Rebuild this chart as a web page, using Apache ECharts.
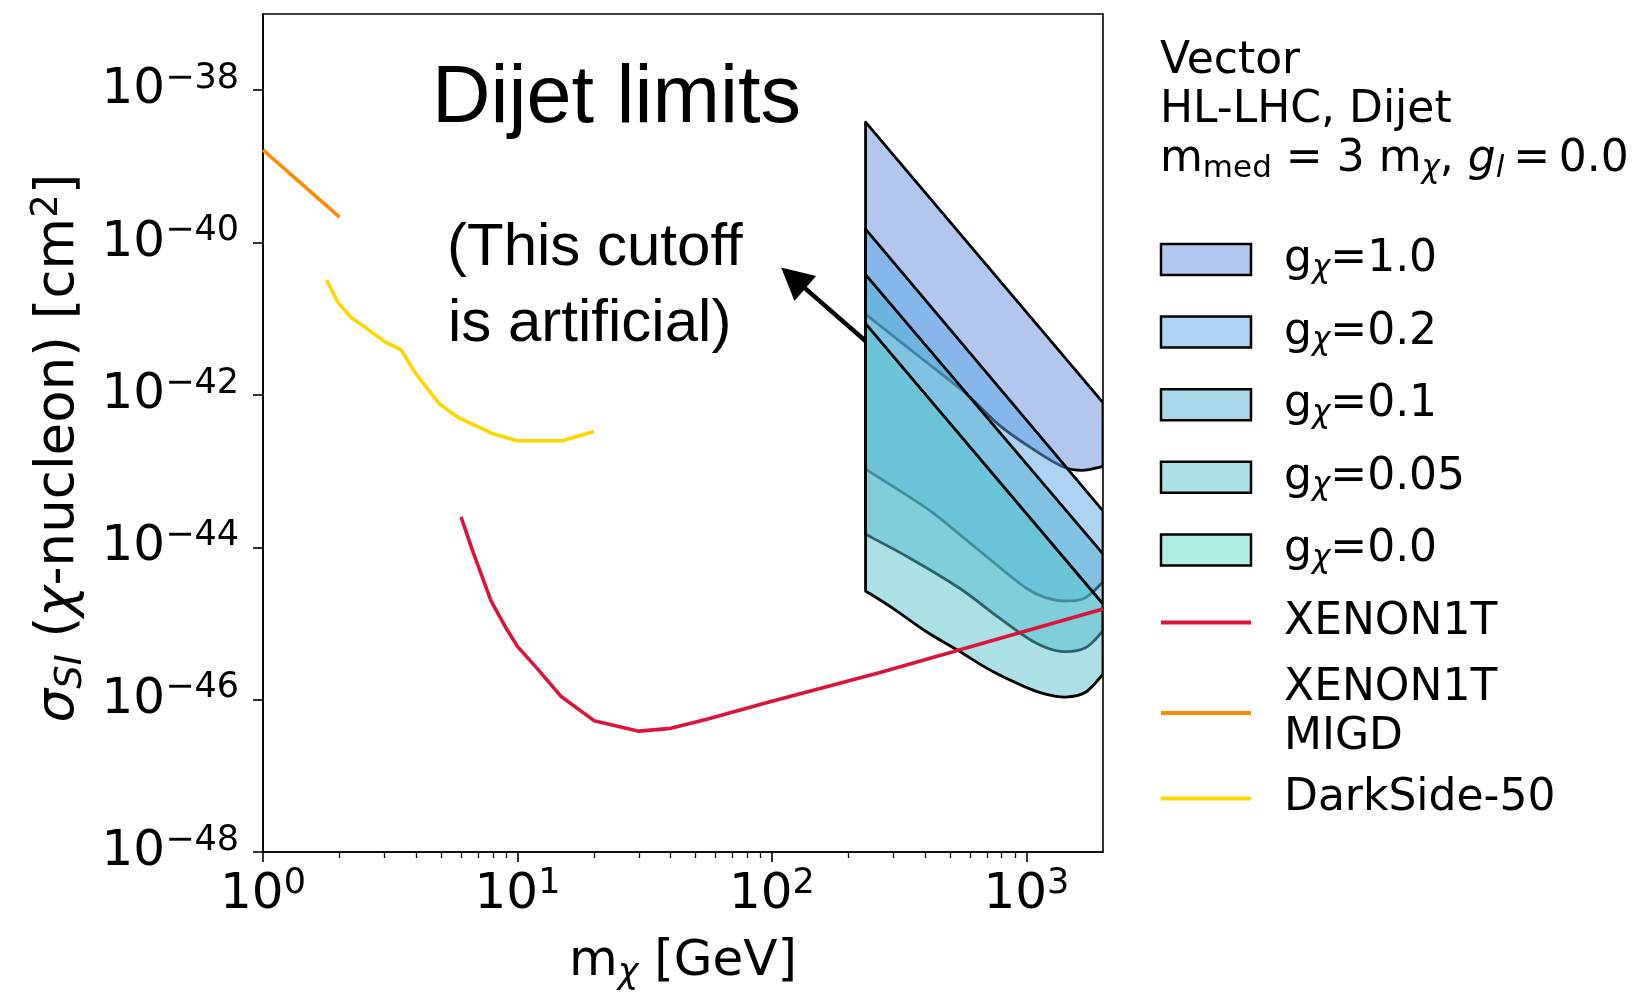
<!DOCTYPE html>
<html>
<head>
<meta charset="utf-8">
<script src="https://cdn.jsdelivr.net/npm/echarts@6/dist/echarts.min.js"></script>
<style>
  html, body { margin: 0; padding: 0; background: #ffffff; }
  #chart { width: 1639px; height: 993px; }
</style>
</head>
<body>
<div id="chart"></div>
<script>
// ---- axis ticks ----
const xMajorTicks = [1, 10, 100, 1000];
const xMinorTicks = [2, 3, 4, 5, 6, 7, 8, 9, 20, 30, 40, 50, 60, 70, 80, 90,
                     200, 300, 400, 500, 600, 700, 800, 900];
// decades of sigma_SI carrying a tick and a label
const yTickExponents = [-48, -46, -44, -42, -40, -38];

// ---- HL-LHC dijet bands, points are [m_chi (GeV), sigma_SI (cm^2)] ----
const bandNames = ['gχ=1.0', 'gχ=0.2', 'gχ=0.1', 'gχ=0.05', 'gχ=0.0'];
const bandColors = ['rgba(101,143,225,0.5)', 'rgba(89,167,229,0.5)', 'rgba(81,177,209,0.5)',
                    'rgba(88,195,205,0.5)', 'rgba(97,217,201,0.5)'];

const g10Upper = [[233.3, 3.8e-39], [2000, 7.9e-43]];
const g10Lower = [[233.3, 1.15e-41], [367, 3.47e-42], [577, 1.05e-42], [780, 4.05e-43],
                  [1054, 1.97e-43], [1383, 1.15e-43], [1657, 1.02e-43], [2000, 1.15e-43]];

const g02Upper = [[233.3, 1.5e-40], [2000, 3.0e-44]];
const g02Lower = [[233.3, 1.06e-43], [402, 3.31e-44], [543, 1.5e-44], [732, 6.6e-45],
                  [993, 2.94e-45], [1189, 2.18e-45], [1425, 1.97e-45], [1707, 2.18e-45], [2000, 3.5e-45]];

const g01Upper = [[233.3, 3.8e-41], [2000, 8.2e-45]];
const g01Lower = [[233.3, 1.48e-44], [346, 7.3e-45], [543, 2.94e-45], [780, 1.19e-45],
                  [1054, 5.9e-46], [1342, 4.34e-46], [1707, 4.8e-46], [2000, 8.0e-46]];

const g005Upper = [[233.3, 8.6e-42], [2000, 1.8e-45]];
const g005Lower = [[233.3, 2.67e-45], [297, 1.6e-45], [402, 7.9e-46], [543, 4.34e-46],
                   [732, 2.37e-46], [993, 1.46e-46], [1189, 1.18e-46], [1425, 1.08e-46],
                   [1707, 1.25e-46], [2000, 2.16e-46]];

// sigma_SI vanishes for g_chi = 0, so this band has nothing inside the frame
const g00Upper = [];
const g00Lower = [];

// ---- direct detection limits ----
const xenon1t = [[6, 2.5e-44], [6.67, 8.9e-45], [7.88, 1.97e-45], [9.0, 8.8e-46], [10, 5.0e-46],
                 [12.2, 2.37e-46], [14.8, 1.11e-46], [20, 5.3e-47], [30, 3.86e-47], [40, 4.2e-47],
                 [55, 5.5e-47], [100, 9.5e-47], [264, 2.25e-46], [2000, 1.55e-45]];
const xenon1tMigd = [[1.0, 1.64e-39], [2.0, 2.16e-40]];
const darkside50 = [[1.78, 3.23e-41], [1.97, 1.64e-41], [2.22, 1.04e-41], [2.58, 7.3e-42],
                    [3.0, 5.0e-42], [3.49, 3.9e-42], [4.0, 1.87e-42], [4.94, 7.6e-43],
                    [5.91, 4.95e-43], [8.0, 3.1e-43], [10, 2.5e-43], [15, 2.5e-43], [20, 3.3e-43]];

// annotation arrow: [tail m, tail sigma, head m, head sigma]
const cutoffArrow = [[233.3, 5.1e-42, 108.7, 4.7e-41]];

const FONT = 'DejaVu Sans';
const SANS = 'Liberation Sans';

// the vertical axis runs over log10(sigma)
const toLog = pts => pts.map(p => [p[0], Math.log10(p[1])]);

function powText(e) {
  return '{b|10}{s|' + (e < 0 ? '\u2212' + (-e) : String(e)) + '}';
}
const tickRich = {
  b: { fontFamily: FONT, fontSize: 50, lineHeight: 58, color: '#000' },
  s: { fontFamily: FONT, fontSize: 35, lineHeight: 31, verticalAlign: 'top', color: '#000' }
};

// Catmull-Rom pass through the pixel points of a lower edge
function smoothTo(pts) {
  let d = '';
  for (let i = 0; i < pts.length - 1; i++) {
    const p0 = pts[Math.max(i - 1, 0)], p1 = pts[i], p2 = pts[i + 1], p3 = pts[Math.min(i + 2, pts.length - 1)];
    const c1 = [p1[0] + (p2[0] - p0[0]) / 6, p1[1] + (p2[1] - p0[1]) / 6];
    const c2 = [p2[0] - (p3[0] - p1[0]) / 6, p2[1] - (p3[1] - p1[1]) / 6];
    d += ' C' + c1[0] + ',' + c1[1] + ' ' + c2[0] + ',' + c2[1] + ' ' + p2[0] + ',' + p2[1];
  }
  return d;
}

function bandSeries(idx, upper, lower) {
  const up = toLog(upper), low = toLog(lower);
  return {
    type: 'custom',
    name: bandNames[idx],
    coordinateSystem: 'cartesian2d',
    silent: true,
    z: 2,
    data: up.length ? [up[0]] : [],
    renderItem: function (params, api) {
      const u = up.map(p => api.coord(p));
      const l = low.slice().reverse().map(p => api.coord(p));
      let d = 'M' + u[0][0] + ',' + u[0][1];
      for (let i = 1; i < u.length; i++) d += ' L' + u[i][0] + ',' + u[i][1];
      d += ' L' + l[0][0] + ',' + l[0][1];
      d += smoothTo(l) + ' Z';
      const cs = params.coordSys;
      return {
        type: 'path',
        shape: { pathData: d },
        style: { fill: bandColors[idx], stroke: '#000', lineWidth: 2.8, lineJoin: 'round' },
        clipPath: { type: 'rect', shape: { x: cs.x, y: cs.y, width: cs.width, height: cs.height } }
      };
    }
  };
}

function lineSeries(name, data, color) {
  return {
    type: 'line', name: name, data: toLog(data), symbol: 'none', showSymbol: false,
    lineStyle: { color: color, width: 3.6 }, itemStyle: { color: color },
    silent: true, z: 4, clip: true
  };
}

const legendNames = {
  'gχ=1.0': 'g{sub|χ}=1.0',
  'gχ=0.2': 'g{sub|χ}=0.2',
  'gχ=0.1': 'g{sub|χ}=0.1',
  'gχ=0.05': 'g{sub|χ}=0.05',
  'gχ=0.0': 'g{sub|χ}=0.0',
  'XENON1T': 'XENON1T',
  'XENON1T MIGD': 'XENON1T\nMIGD',
  'DarkSide-50': 'DarkSide-50'
};
const legendText = {
  fontFamily: FONT, fontSize: 44, lineHeight: 49, color: '#000', padding: [0, 0, 0, 28],
  rich: {
    sub: { fontFamily: FONT, fontSize: 31, fontStyle: 'italic', lineHeight: 29, verticalAlign: 'bottom', color: '#000' }
  }
};
function bandLegendItem(i) {
  return { name: bandNames[i], icon: 'rect',
           itemStyle: { color: bandColors[i], borderColor: '#000', borderWidth: 2.5 } };
}
function lineLegendItem(name, color) {
  return { name: name, itemStyle: { opacity: 0 }, lineStyle: { color: color, width: 4, opacity: 1 } };
}

const chart = echarts.init(document.getElementById('chart'), null, { renderer: 'canvas' });

chart.setOption({
  animation: false,
  backgroundColor: '#ffffff',
  grid: { left: 263, top: 14, width: 840, height: 838, show: true, containLabel: false,
          outerBoundsMode: 'none',
          borderColor: '#000', borderWidth: 1.6, backgroundColor: 'transparent' },
  xAxis: [{
    type: 'log', logBase: 10, min: 1, max: 2000, position: 'bottom',
    axisLine: { show: true, onZero: false, lineStyle: { color: '#000', width: 1.6 } },
    axisTick: { show: true, length: 10, lineStyle: { color: '#000', width: 1.6 }, customValues: xMajorTicks },
    axisLabel: { show: true, margin: 14, customValues: xMajorTicks,
                 formatter: v => powText(Math.round(Math.log10(v))), rich: tickRich },
    splitLine: { show: false }, minorTick: { show: false },
    name: 'm{sub|χ} [GeV]', nameLocation: 'middle', nameGap: 81,
    nameTextStyle: {
      fontFamily: FONT, fontSize: 50, lineHeight: 58, color: '#000',
      rich: { sub: { fontFamily: FONT, fontSize: 35, fontStyle: 'italic', lineHeight: 22, verticalAlign: 'bottom', color: '#000' } }
    }
  }, {
    type: 'log', logBase: 10, min: 1, max: 2000, position: 'bottom',
    axisLine: { show: false }, axisLabel: { show: false }, splitLine: { show: false },
    axisTick: { show: true, length: 6, lineStyle: { color: '#000', width: 1.3 }, customValues: xMinorTicks }
  }],
  yAxis: {
    type: 'value', min: -48, max: -37,
    axisLine: { show: true, onZero: false, lineStyle: { color: '#000', width: 1.6 } },
    axisTick: { show: true, length: 10, lineStyle: { color: '#000', width: 1.6 }, customValues: yTickExponents },
    axisLabel: { show: true, margin: 24, customValues: yTickExponents,
                 formatter: v => powText(Math.round(v)), rich: tickRich },
    splitLine: { show: false }, minorTick: { show: false },
    name: '{i|σ}{sub|SI} ({i|χ}-nucleon) [cm{sup|2}]', nameLocation: 'middle', nameGap: 173,
    nameTextStyle: {
      fontFamily: FONT, fontSize: 53, lineHeight: 61, color: '#000', padding: [0, 30, 0, 0],
      rich: {
        i: { fontFamily: FONT, fontSize: 53, fontStyle: 'italic', lineHeight: 61, color: '#000' },
        sub: { fontFamily: FONT, fontSize: 37, fontStyle: 'italic', lineHeight: 22, verticalAlign: 'bottom', color: '#000' },
        sup: { fontFamily: FONT, fontSize: 37, lineHeight: 32, verticalAlign: 'top', color: '#000' }
      }
    }
  },
  legend: [{
    orient: 'vertical', left: 1159, top: 235, padding: 0, itemWidth: 90, itemHeight: 31, itemGap: 23.6,
    selectedMode: false, textStyle: legendText,
    formatter: n => legendNames[n],
    data: [bandLegendItem(0), bandLegendItem(1), bandLegendItem(2), bandLegendItem(3), bandLegendItem(4),
           lineLegendItem('XENON1T', '#DC143C')]
  }, {
    orient: 'vertical', left: 1159, top: 664, padding: 0, itemWidth: 90, itemHeight: 31, itemGap: 12,
    selectedMode: false, textStyle: legendText,
    formatter: n => legendNames[n],
    data: [lineLegendItem('XENON1T MIGD', '#FF8C00'), lineLegendItem('DarkSide-50', '#FFD700')]
  }],
  graphic: [
    { type: 'text', x: 432, y: 100, silent: true,
      style: { text: 'Dijet limits', font: '81px "' + SANS + '"', fill: '#000', verticalAlign: 'middle' } },
    { type: 'text', x: 447, y: 248, silent: true,
      style: { text: '(This cutoff', font: '60px "' + SANS + '"', fill: '#000', verticalAlign: 'middle' } },
    { type: 'text', x: 448, y: 324, silent: true,
      style: { text: 'is artificial)', font: '60px "' + SANS + '"', fill: '#000', verticalAlign: 'middle' } },
    { type: 'text', x: 1160, y: 37, silent: true,
      style: {
        text: 'Vector\nHL-LHC, Dijet\nm{sub|med} = 3 m{subi|χ}, {i|g}{subi|l}\u2009=\u20090.0',
        fontFamily: FONT, fontSize: 44, lineHeight: 49, fill: '#000', verticalAlign: 'top',
        rich: {
          sub: { fontFamily: FONT, fontSize: 31, lineHeight: 20, verticalAlign: 'bottom', fill: '#000' },
          subi: { fontFamily: FONT, fontSize: 31, fontStyle: 'italic', lineHeight: 20, verticalAlign: 'bottom', fill: '#000' },
          i: { fontFamily: FONT, fontSize: 44, fontStyle: 'italic', lineHeight: 49, fill: '#000' }
        }
      } }
  ],
  series: [
    bandSeries(0, g10Upper, g10Lower),
    bandSeries(1, g02Upper, g02Lower),
    bandSeries(2, g01Upper, g01Lower),
    bandSeries(3, g005Upper, g005Lower),
    bandSeries(4, g00Upper, g00Lower),
    {
      type: 'custom', name: 'cutoff-arrow', coordinateSystem: 'cartesian2d', silent: true, z: 5,
      data: cutoffArrow.map(a => [a[0], Math.log10(a[1]), a[2], Math.log10(a[3])]),
      encode: { x: [0, 2], y: [1, 3] },
      renderItem: function (params, api) {
        const p0 = api.coord([api.value(0), api.value(1)]);
        const p1 = api.coord([api.value(2), api.value(3)]);
        const dx = p1[0] - p0[0], dy = p1[1] - p0[1];
        const len = Math.sqrt(dx * dx + dy * dy);
        const ux = dx / len, uy = dy / len;
        const headLen = 32, headHalf = 16.5;
        const bx = p1[0] - ux * headLen, by = p1[1] - uy * headLen;
        return {
          type: 'group',
          children: [
            { type: 'line', shape: { x1: p0[0], y1: p0[1], x2: bx + ux * 4, y2: by + uy * 4 },
              style: { stroke: '#000', lineWidth: 4.5 } },
            { type: 'polygon',
              shape: { points: [[p1[0], p1[1]], [bx - uy * headHalf, by + ux * headHalf], [bx + uy * headHalf, by - ux * headHalf]] },
              style: { fill: '#000' } }
          ]
        };
      }
    },
    lineSeries('XENON1T', xenon1t, '#DC143C'),
    lineSeries('XENON1T MIGD', xenon1tMigd, '#FF8C00'),
    lineSeries('DarkSide-50', darkside50, '#FFD700')
  ]
});
</script>
</body>
</html>
